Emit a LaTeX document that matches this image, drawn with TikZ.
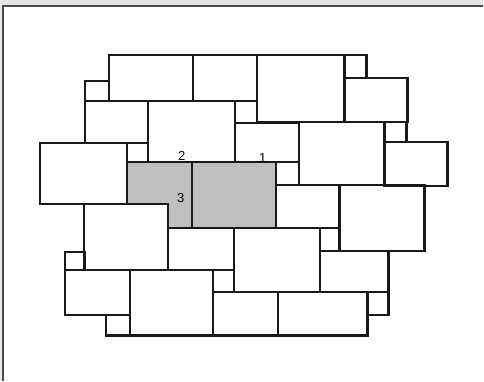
\documentclass[tikz,border=0pt]{standalone}
\usepackage{fontspec}
\setmainfont{Liberation Sans}
\begin{document}
\begin{tikzpicture}[x=1pt,y=-1pt,
  stone/.style={draw=black!90,line width=2.2pt,line join=miter},
  paved/.style={fill=black!25},
  numlabel/.style={font=\fontsize{13}{13}\selectfont,inner sep=0pt,anchor=base}]
% frame
\fill[black!10] (0,0) rectangle (484,381);
\fill[white] (3,6) rectangle (484,381);
\draw[black!70,line width=1.2pt] (3,381) -- (3,6) -- (484,6);
\useasboundingbox (0,0) rectangle (484,381);
% shaded stones
\fill[paved] (127,162) -- (192,162) -- (192,228) -- (168,228) -- (168,204) -- (127,204) -- cycle;
\fill[paved] (192,162) rectangle (276,228);
% stones
\foreach \a/\b/\c/\d in {
  109/55/193/101, 193/55/257/101, 257/55/345/122, 345/55/367/78, 345/78/408/122,
  85/81/109/101, 85/101/148/143, 148/101/235/162, 235/101/257/123, 235/123/299/162,
  299/122/385/185, 385/122/407/142, 385/142/448/186, 127/143/148/162, 40/143/127/204,
  192/162/276/228, 276/162/299/185, 276/185/340/228, 340/185/425/251,
  84/204/168/270, 168/228/234/270, 65/252/85/270, 234/228/320/292, 320/228/340/251,
  320/251/389/292, 65/270/130/315, 130/270/213/336, 213/270/234/292, 106/315/130/336,
  213/292/278/336, 278/292/368/336, 368/292/389/315}
  \draw[stone] (\a,\b) rectangle (\c,\d);
\draw[stone] (127,162) -- (192,162) -- (192,228) -- (168,228) -- (168,204) -- (127,204) -- cycle;
% labels
\node[numlabel] (l1) at (263,163) {1};
\node[numlabel] (l2) at (182,161) {2};
\node[numlabel] (l3) at (181,203) {3};
\end{tikzpicture}
\end{document}
